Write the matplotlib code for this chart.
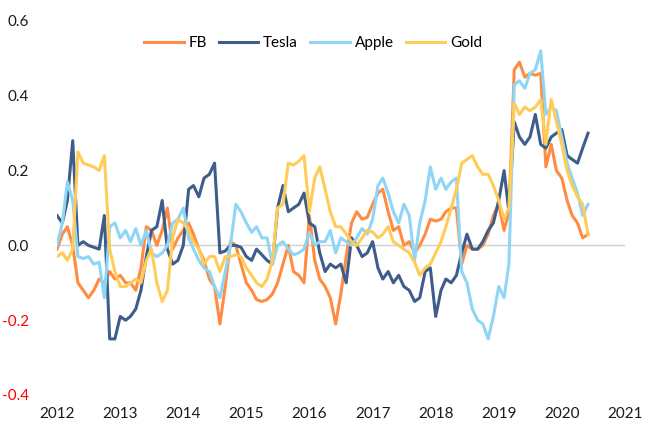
import pandas as pd
import matplotlib
matplotlib.use("Agg")
import matplotlib.pyplot as plt
import matplotlib.dates as mdates

# monthly samples, Jan 2012 .. Jun 2020
dates = pd.date_range("2012-01-01", periods=102, freq="MS")

fb = [-0.01, 0.03, 0.05, 0.00, -0.10, -0.12, -0.14, -0.12, -0.09, -0.10,
      -0.07, -0.09, -0.08, -0.10, -0.10, -0.12, -0.06, 0.05, 0.04, 0.00,
      0.04, 0.10, -0.01, 0.02, 0.04, 0.06, 0.03, -0.01, -0.04, -0.09,
      -0.11, -0.21, -0.11, 0.01, 0.00, -0.05, -0.10, -0.12, -0.145, -0.15,
      -0.145, -0.13, -0.10, -0.05, 0.00, -0.07, -0.08, -0.10, 0.08, -0.04,
      -0.09, -0.11, -0.14, -0.21, -0.13, -0.03, 0.06, 0.09, 0.07, 0.075,
      0.11, 0.14, 0.15, 0.09, 0.04, 0.05, 0.00, 0.01, -0.02, 0.00,
      0.03, 0.07, 0.065, 0.07, 0.09, 0.10, 0.10, -0.05, 0.00, -0.01,
      -0.01, 0.00, 0.03, 0.08, 0.11, 0.04, 0.09, 0.47, 0.49, 0.45,
      0.46, 0.455, 0.46, 0.21, 0.27, 0.20, 0.18, 0.12, 0.08, 0.06,
      0.02, 0.03]

tesla = [0.08, 0.06, 0.12, 0.28, 0.00, 0.01, 0.00, -0.005, -0.01, 0.08,
         -0.25, -0.25, -0.19, -0.20, -0.19, -0.17, -0.12, -0.03, 0.04, 0.05,
         0.12, -0.01, -0.05, -0.04, 0.00, 0.15, 0.16, 0.13, 0.18, 0.19,
         0.22, -0.02, -0.015, 0.00, 0.00, -0.005, -0.03, -0.04, -0.01, -0.025,
         -0.04, -0.05, 0.10, 0.16, 0.09, 0.10, 0.11, 0.14, 0.06, 0.05,
         -0.02, -0.07, -0.05, -0.06, -0.05, -0.10, 0.02, 0.00, -0.03, -0.02,
         0.01, -0.06, -0.09, -0.07, -0.10, -0.08, -0.11, -0.12, -0.15, -0.14,
         -0.07, -0.06, -0.19, -0.12, -0.09, -0.10, -0.08, -0.02, 0.03, -0.01,
         -0.01, 0.01, 0.04, 0.06, 0.12, 0.20, 0.09, 0.33, 0.29, 0.27,
         0.29, 0.35, 0.27, 0.26, 0.29, 0.30, 0.31, 0.24, 0.23, 0.22,
         0.26, 0.30]

apple = [0.00, 0.06, 0.17, 0.12, -0.03, -0.035, -0.03, -0.05, -0.045, -0.14,
         0.05, 0.06, 0.02, 0.04, 0.01, 0.045, 0.00, 0.04, -0.02, -0.03,
         -0.02, 0.00, 0.06, 0.07, 0.10, 0.02, -0.01, -0.04, -0.06, -0.07,
         -0.11, -0.14, -0.07, 0.00, 0.11, 0.09, 0.06, 0.035, 0.05, 0.02,
         0.02, -0.05, 0.00, 0.01, -0.01, -0.025, -0.02, -0.01, 0.035, 0.00,
         0.01, 0.01, 0.04, -0.02, 0.02, 0.01, 0.00, 0.02, 0.045, 0.03,
         0.07, 0.16, 0.18, 0.14, 0.09, 0.06, 0.11, 0.08, -0.04, 0.06,
         0.12, 0.21, 0.15, 0.18, 0.15, 0.17, 0.18, -0.07, -0.10, -0.17,
         -0.20, -0.21, -0.25, -0.19, -0.11, -0.14, -0.05, 0.43, 0.44, 0.42,
         0.46, 0.47, 0.52, 0.35, 0.37, 0.36, 0.29, 0.22, 0.18, 0.14,
         0.08, 0.11]

gold = [-0.03, -0.02, -0.04, -0.01, 0.25, 0.22, 0.215, 0.21, 0.20, 0.24,
        -0.01, -0.07, -0.11, -0.11, -0.10, -0.09, -0.10, -0.04, -0.01, -0.10,
        -0.15, -0.12, 0.02, 0.07, 0.06, 0.04, 0.01, -0.01, -0.05, -0.03,
        -0.03, -0.07, -0.03, -0.03, -0.025, -0.03, -0.06, -0.08, -0.10, -0.11,
        -0.09, -0.04, 0.10, 0.11, 0.22, 0.215, 0.225, 0.24, 0.09, 0.18,
        0.21, 0.15, 0.09, 0.05, 0.05, 0.03, 0.01, 0.00, 0.02, 0.04,
        0.036, 0.02, 0.03, 0.05, 0.01, 0.00, -0.01, -0.02, -0.045, -0.08,
        -0.06, -0.05, -0.02, 0.01, 0.05, 0.10, 0.15, 0.22, 0.23, 0.24,
        0.21, 0.19, 0.19, 0.16, 0.12, 0.07, 0.10, 0.38, 0.35, 0.37,
        0.36, 0.37, 0.39, 0.27, 0.39, 0.33, 0.27, 0.20, 0.16, 0.13,
        0.11, 0.03]

series = [("FB", fb, "#FF8C42"), ("Tesla", tesla, "#3F5D8A"),
          ("Apple", apple, "#8FD6F6"), ("Gold", gold, "#FFCD57")]

yticks = [-0.4, -0.2, 0.0, 0.2, 0.4, 0.6]

plt.rcParams["font.family"] = ["Lato", "DejaVu Sans"]

fig = plt.figure(figsize=(6.49, 4.25), dpi=100)
ax = fig.add_axes([57 / 649, 1 - 395 / 425, (625 - 57) / 649, (395 - 21) / 425])

xmin = pd.Timestamp("2012-01-01")
xmax = pd.Timestamp("2021-01-01")
ax.plot([xmin, xmax], [0, 0], color="#D0D0D0", lw=1.0, zorder=1)

for name, vals, col in series:
    ax.plot(dates, vals, color=col, lw=2.2, label=name, zorder=2,
            solid_joinstyle="round")

ax.set_xlim(xmin, xmax)
ax.set_ylim(-0.4, 0.6)
ax.xaxis.set_major_locator(mdates.YearLocator())
ax.xaxis.set_major_formatter(mdates.DateFormatter("%Y"))
ax.set_yticks(yticks)
ax.set_yticklabels(["%.1f" % v for v in yticks])
ax.tick_params(length=0, labelsize=11, colors="#1A1A1A")
ax.tick_params(axis="y", pad=20)
ax.tick_params(axis="x", pad=9)
for lab, v in zip(ax.get_yticklabels(), yticks):
    if v < 0:
        lab.set_color("#FF0000")
for s in ax.spines.values():
    s.set_visible(False)

fig.legend(loc="center", bbox_to_anchor=(313 / 649, 1 - 43 / 425), ncol=4,
           frameon=False, fontsize=11, handlelength=2.6, handletextpad=0.3,
           columnspacing=0.8)

fig.savefig("out.png", dpi=100)
